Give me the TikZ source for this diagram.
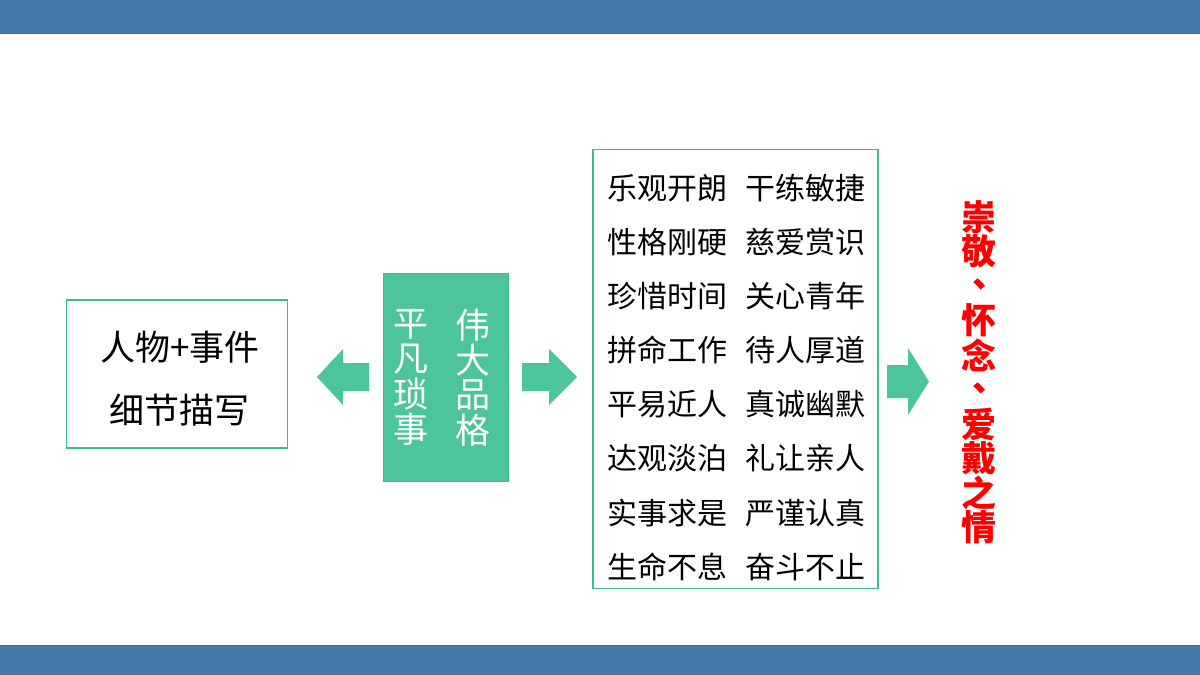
\documentclass[tikz,border=0pt]{standalone}
\usepackage{fontspec}
\newfontfamily\cjk{Noto Sans CJK SC}
\definecolor{barblue}{RGB}{69,123,168}
\definecolor{barline}{RGB}{52,108,170}
\definecolor{mint}{RGB}{76,197,155}
\definecolor{mintline}{RGB}{60,189,140}
\definecolor{redtxt}{RGB}{255,0,0}
\tikzset{
  box/.style={draw=mintline, line width=1.5pt, fill=white, inner sep=0pt},
  blockarrow/.style={fill=mint, draw=none},
  midtxt/.style={font=\cjk\fontsize{30}{30}\selectfont, text=black, inner sep=0pt},
  lefttxt/.style={font=\cjk\fontsize{35}{35}\selectfont, text=black, inner sep=0pt},
  vtxt/.style={font=\cjk\fontsize{35}{35}\selectfont, text=white, inner sep=0pt},
  rtxt/.style={font=\cjk\bfseries\fontsize{35}{35}\selectfont, text=redtxt, inner sep=0pt}
}
\begin{document}
\begin{tikzpicture}[x=1pt,y=-1pt]
\useasboundingbox (0,0) rectangle (1200,675);
\fill[white] (0,0) rectangle (1200,675);
% bars
\fill[barblue] (0,0) rectangle (1200,34);
\draw[barline, line width=1.5pt] (0,33.5) -- (1200,33.5);
\fill[barblue] (0,645) rectangle (1200,675);
\draw[barline, line width=1.5pt] (0,645.5) -- (1200,645.5);

% left box
\node[box, minimum width=221pt, minimum height=148pt] (left) at (177,374) {};
\node[lefttxt] (l1) at (180,347) {人物+事件};
\node[lefttxt] (l2) at (179,410) {细节描写};

% green box
\node[fill=mint, draw=mintline, line width=1pt, minimum width=125pt, minimum height=208pt, inner sep=0pt] (green) at (445.5,377) {};
\foreach \c [count=\i] in {平,凡,琐,事}{
  \node[vtxt] (a\i) at (411,{324.5+35*(\i-1)}) {\c};
}
\foreach \c [count=\i] in {伟,大,品,格}{
  \node[vtxt] (b\i) at (473,{325+35*(\i-1)}) {\c};
}

% middle box
\node[box, minimum width=285pt, minimum height=439pt] (mid) at (735.5,369) {};
\foreach \p/\q [count=\i] in {乐观开朗/干练敏捷,性格刚硬/慈爱赏识,珍惜时间/关心青年,拼命工作/待人厚道,平易近人/真诚幽默,达观淡泊/礼让亲人,实事求是/严谨认真,生命不息/奋斗不止}{
  \node[midtxt] (p\i) at (667,{188+54.1*(\i-1)}) {\p};
  \node[midtxt] (q\i) at (805,{188+54.1*(\i-1)}) {\q};
}

% block arrows
\fill[blockarrow] (317,377) -- (343,349) -- (343,363) -- (369,363) -- (369,391) -- (343,391) -- (343,405) -- cycle;
\fill[blockarrow] (577,377) -- (549,349) -- (549,363) -- (522,363) -- (522,391) -- (549,391) -- (549,405) -- cycle;
\fill[blockarrow] (929,381.5) -- (908,348) -- (908,365) -- (887,365) -- (887,398) -- (908,398) -- (908,415) -- cycle;

% red vertical text
\node[rtxt] (r1) at (979,217) {崇};
\node[rtxt] (r2) at (979,251.5) {敬};
\node[rtxt] (r3) at (990,284) {、};
\node[rtxt] (r4) at (979,320.5) {怀};
\node[rtxt] (r5) at (979,355) {念};
\node[rtxt] (r6) at (990,388) {、};
\node[rtxt] (r7) at (979,424) {爱};
\node[rtxt] (r8) at (979,458.5) {戴};
\node[rtxt] (r9) at (979,493) {之};
\node[rtxt] (r10) at (979,527.5) {情};
\end{tikzpicture}
\end{document}
